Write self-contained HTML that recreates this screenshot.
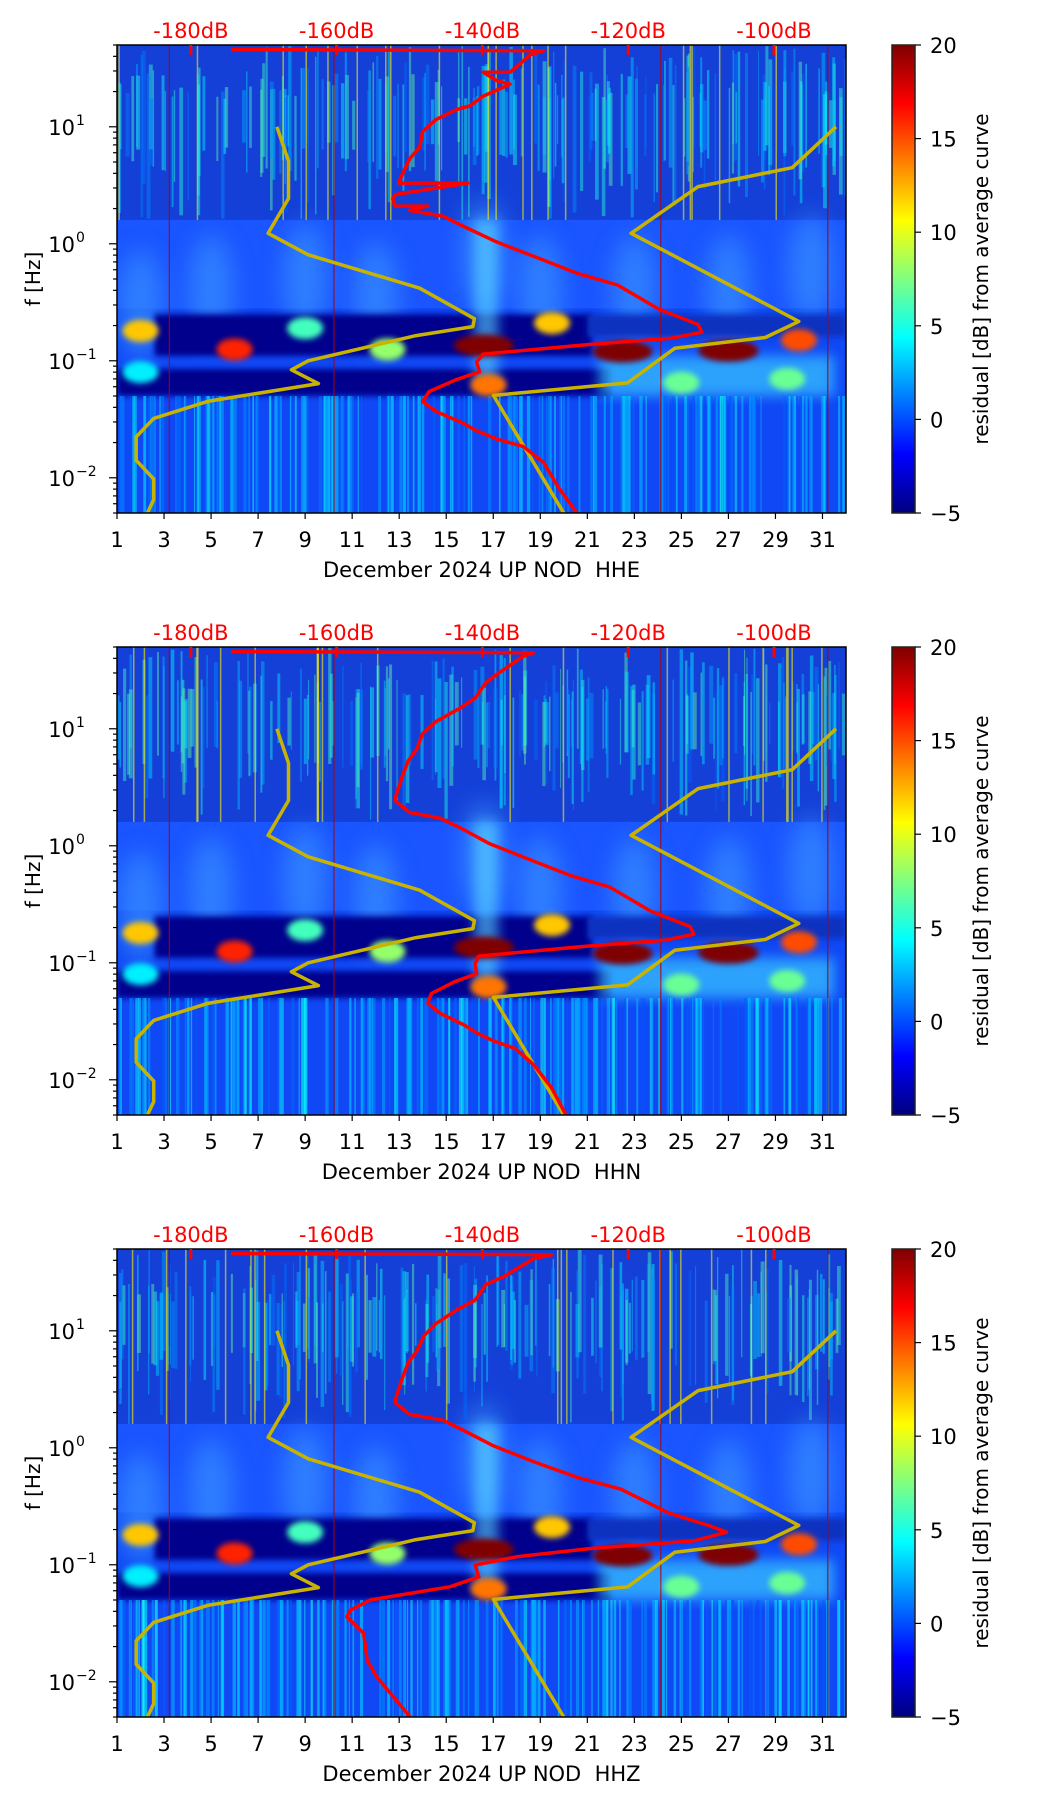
<!DOCTYPE html>
<html><head><meta charset="utf-8"><style>
body{margin:0;background:#fff;}
svg text{font-family:"DejaVu Sans","Liberation Sans",sans-serif;}
</style></head><body>
<svg id="fig" width="1052" height="1806" viewBox="0 0 1052 1806" xmlns="http://www.w3.org/2000/svg">
<defs>
<linearGradient id="jet" x1="0" y1="1" x2="0" y2="0">
<stop offset="0" stop-color="#00007f"/><stop offset="0.125" stop-color="#0000ff"/><stop offset="0.375" stop-color="#00ffff"/><stop offset="0.625" stop-color="#ffff00"/><stop offset="0.875" stop-color="#ff0000"/><stop offset="1" stop-color="#7f0000"/>
</linearGradient>
<filter id="blur6" x="-50%" y="-50%" width="200%" height="200%"><feGaussianBlur stdDeviation="6"/></filter>
<filter id="blur3" x="-50%" y="-50%" width="200%" height="200%"><feGaussianBlur stdDeviation="3"/></filter>
<filter id="blur12" x="-50%" y="-50%" width="200%" height="200%"><feGaussianBlur stdDeviation="12"/></filter>
</defs>
</svg>
<script>
// ---- data ----
const dayTicks = [1,3,5,7,9,11,13,15,17,19,21,23,25,27,29,31];
const freqTicks = [10, 1, 0.1, 0.01];
const freqTickLabels = ["1", "0", "−1", "−2"];
const dbTicks = [-180,-160,-140,-120,-100];
const cbTicks = [20,15,10,5,0,-5];
const channels = ["HHE","HHN","HHZ"];

const nlnmFreq = [10,5.09,2.44,1.23,0.805,0.417,0.229,0.196,0.164,0.1,0.0837,0.0638,0.045,0.0322,0.0224,0.0141,0.00977,0.00648,0.00494];
const nlnmDb   = [-168.2,-166.6,-166.6,-169.4,-163.9,-148.6,-141.1,-141.3,-149.1,-163.9,-166.2,-162.5,-177.7,-185.1,-187.5,-187.5,-185.1,-185.1,-186.0];
const nhnmFreq = [0.00494,0.0506,0.0647,0.128,0.158,0.217,1.23,3.08,4.47,10];
const nhnmDb   = [-128.8,-138.5,-120.1,-113.6,-101.2,-96.6,-119.6,-110.4,-97.5,-91.5];

const redFreqHHE = [45.7,44.7,41.3,29.2,29.2,24.9,23.1,18.3,15.1,14.0,11.5,9.1,6.7,5.3,3.9,3.3,3.3,2.64,2.44,2.1,2.1,1.93,1.72,1.42,1.04,0.762,0.559,0.443,0.278,0.204,0.175,0.156,0.138,0.114,0.0977,0.0805,0.0689,0.0546,0.045,0.037,0.0294,0.0252,0.0215,0.0185,0.0135,0.0085,0.00494];
const redDbHHE   = [-174.5,-131.6,-133.4,-136.2,-139.9,-138.1,-136.2,-139.9,-141.7,-143.6,-146.4,-148.2,-148.6,-150.0,-151.0,-151.5,-142.0,-151.9,-152.3,-152.0,-147.5,-150.0,-145.4,-142.7,-138.1,-132.5,-127.0,-121.4,-115.9,-110.4,-109.9,-114.1,-125.2,-139.9,-140.8,-140.4,-143.6,-147.3,-148.2,-146.4,-142.7,-140.8,-138.1,-134.4,-131.6,-129.7,-127.0];
const redFreqHHN = [45.7,44.7,41.3,29.2,24.9,18.3,15.1,11.5,9.1,6.7,5.3,3.9,2.64,2.44,1.93,1.72,1.42,1.04,0.762,0.559,0.443,0.278,0.204,0.175,0.156,0.138,0.114,0.0977,0.0805,0.0689,0.0546,0.045,0.037,0.0294,0.0252,0.0215,0.0185,0.0135,0.0085,0.00494];
const redDbHHN   = [-174.5,-133.0,-134.5,-138.0,-139.5,-141.0,-143.0,-146.4,-148.2,-149.0,-150.2,-151.0,-151.9,-152.0,-150.0,-145.8,-143.0,-139.0,-133.5,-128.0,-122.5,-117.0,-111.5,-111.0,-115.0,-126.0,-140.5,-141.0,-140.8,-143.8,-147.0,-147.5,-145.8,-142.5,-140.8,-138.5,-135.5,-133.0,-130.5,-128.5];
const redFreqHHZ = [45.7,44.7,41.3,29.2,24.9,18.3,15.1,11.5,9.1,6.7,5.3,3.9,2.64,2.44,1.93,1.72,1.42,1.04,0.762,0.559,0.443,0.278,0.217,0.19,0.16,0.138,0.117,0.0995,0.079,0.065,0.05,0.041,0.036,0.026,0.0153,0.011,0.005];
const redDbHHZ   = [-174.5,-130.5,-133.0,-137.0,-139.5,-141.0,-143.5,-146.4,-148.0,-149.0,-150.2,-151.0,-151.9,-152.0,-150.0,-145.4,-142.7,-138.5,-133.0,-127.0,-121.0,-114.5,-109.0,-106.5,-111.0,-125.0,-135.3,-141.0,-140.5,-144.4,-155.4,-158.1,-158.6,-156.3,-155.8,-154.5,-149.9];

const blobDay  = [2.0, 6.0, 16.6, 22.5, 27.0, 30.0, 19.5, 16.8, 9.0, 12.5, 25.0, 29.5, 2.0];
const blobFreq = [0.18,0.125,0.135,0.12,0.122,0.15,0.21,0.062,0.19,0.125,0.065,0.07,0.08];
const blobVal  = [12, 16, 20, 20, 20, 15, 12, 14, 6, 8, 7, 7, 4];
const dropoutDays = [3.2, 10.2, 24.1, 31.2];

// ---- layout ----
const NS="http://www.w3.org/2000/svg";
const svg=document.getElementById('fig');
const X0=117, X1=846, PH=468, TOPS=[45,647,1249];
const FMAX=50, FMIN=0.005;
function xDay(d){return X0+(d-1)/31*(X1-X0);}
function yF(top,f){return top+(Math.log10(FMAX)-Math.log10(f))/(Math.log10(FMAX)-Math.log10(FMIN))*PH;}
function dbDay(db){return 4.14+(db+180)/3.226;}
function jet(v){
  let t=Math.max(0,Math.min(1,(v+5)/25));
  const st=[[0,0,0,127],[0.125,0,0,255],[0.375,0,255,255],[0.625,255,255,0],[0.875,255,0,0],[1,127,0,0]];
  for(let i=1;i<st.length;i++){ if(t<=st[i][0]){const a=st[i-1],b=st[i],k=(t-a[0])/(b[0]-a[0]);
    return `rgb(${Math.round(a[1]+(b[1]-a[1])*k)},${Math.round(a[2]+(b[2]-a[2])*k)},${Math.round(a[3]+(b[3]-a[3])*k)})`;}}
  return 'rgb(127,0,0)';
}
function el(tag,attrs,parent){const e=document.createElementNS(NS,tag);for(const k in attrs)e.setAttribute(k,attrs[k]);(parent||svg).appendChild(e);return e;}
let seed=12345;function rnd(){seed=(seed*1103515245+12345)%2147483648;return seed/2147483648;}

TOPS.forEach((top,pi)=>{
  const g=el('g',{});
  
  
  const cp=el('clipPath',{id:'cp'+pi},svg.querySelector('defs'));
  el('rect',{x:X0,y:top,width:X1-X0,height:PH},cp);
  const bg=el('g',{'clip-path':`url(#cp${pi})`},g);
  
  
  const yy=f=>yF(top,f);
  el('rect',{x:X0,y:top,width:X1-X0,height:PH,fill:'#1048f5'},bg);
  el('rect',{x:X0,y:top,width:X1-X0,height:yy(1.6)-top,fill:'#1440d8'},bg);
  el('rect',{x:X0,y:yy(1.6),width:X1-X0,height:yy(0.28)-yy(1.6),fill:'#1a55ff'},bg);
  [[2,0.3],[9,0.5],[16.6,0.8],[19,0.4],[23,0.4],[27,0.4],[30.5,0.6],[12,0.35],[5,0.4]].forEach(p=>{
    el('ellipse',{cx:xDay(p[0]),cy:yy(p[1]),rx:22,ry:55,fill:'#3fa0ff',opacity:0.55,filter:'url(#blur12)'},bg);
  });
  el('rect',{x:xDay(2.6),y:yy(0.25),width:xDay(21.2)-xDay(2.6),height:yy(0.11)-yy(0.25),fill:'#00008c',filter:'url(#blur3)'},bg);
  el('rect',{x:xDay(1),y:yy(0.085),width:xDay(22)-xDay(1),height:yy(0.05)-yy(0.085),fill:'#00008c',filter:'url(#blur3)'},bg);
  el('rect',{x:xDay(21),y:yy(0.25),width:xDay(32)-xDay(21),height:yy(0.16)-yy(0.25),fill:'#0a30c0',filter:'url(#blur3)'},bg);
  el('rect',{x:xDay(21.5),y:yy(0.11),width:xDay(31.5)-xDay(21.5),height:yy(0.05)-yy(0.11),fill:'#39c8ff',opacity:0.7,filter:'url(#blur6)'},bg);
  el('rect',{x:xDay(16.2),y:yy(1.6),width:xDay(17.2)-xDay(16.2),height:yy(0.06)-yy(1.6),fill:'#5ad8ff',opacity:0.6,filter:'url(#blur6)'},bg);
  // texture streaks (decorative)
  for(let i=0;i<200;i++){
    const d=1+rnd()*31, w=1+rnd()*3, v=0.5+rnd()*6.5;
    const fBot=1.6+rnd()*6, fTop=50/(1+rnd()*2);
    el('rect',{x:xDay(d),y:yy(fTop),width:w,height:yy(fBot)-yy(fTop),fill:jet(v),opacity:0.45},bg);
  }
  for(let i=0;i<20;i++){
    const d=1+rnd()*31;
    el('rect',{x:xDay(d),y:top,width:1.5,height:yy(1.6)-top,fill:jet(11),opacity:0.6},bg);
  }
  for(let i=0;i<220;i++){
    const d=1+rnd()*31, w=1+rnd()*2.5, v=0+rnd()*5;
    el('rect',{x:xDay(d),y:yy(0.05),width:w,height:top+PH-yy(0.05),fill:jet(v),opacity:0.5},bg);
  }
  dropoutDays.forEach(d=>{
    el('rect',{x:xDay(d),y:top,width:1.2,height:PH,fill:'#b00000',opacity:0.85},bg);
  });
  blobDay.forEach((d,i)=>{
    const b=el('ellipse',{cx:xDay(d),cy:yy(blobFreq[i]),rx:blobVal[i]>=18?30:18,ry:11,fill:jet(blobVal[i]),filter:'url(#blur3)'},bg);
    
    
  });
  function poly(fr,db,color,w,name){
    const pts=fr.map((f,i)=>xDay(dbDay(db[i])).toFixed(1)+','+yy(f).toFixed(1)).join(' ');
    const p=el('polyline',{points:pts,fill:'none',stroke:color,'stroke-width':w,'stroke-linejoin':'round'},bg);
    
    
  }
  poly(nlnmFreq,nlnmDb,'#c8b400',3.5,'nlnm-curve');
  poly(nhnmFreq,nhnmDb,'#c8b400',3.5,'nhnm-curve');
  const rf=[redFreqHHE,redFreqHHN,redFreqHHZ][pi], rd=[redDbHHE,redDbHHN,redDbHHZ][pi];
  poly(rf,rd,'#ff0000',3.5,'average-psd-curve');
  el('rect',{x:X0,y:top,width:X1-X0,height:PH,fill:'none',stroke:'#000','stroke-width':1.5},g);
  dayTicks.forEach(d=>{
    const x=xDay(d);
    el('line',{x1:x,y1:top+PH,x2:x,y2:top+PH+6,stroke:'#000','stroke-width':1.2},g);
    const t=el('text',{x:x,y:top+PH+34,'font-size':21,'text-anchor':'middle',fill:'#000'},g);
    t.textContent=d;
    
    
  });
  const xt=el('text',{x:(X0+X1)/2,y:top+PH+64,'font-size':21,'text-anchor':'middle',fill:'#000'},g);
  xt.textContent='December 2024 UP NOD \u00a0'+channels[pi];
  
  
  dbTicks.forEach(db=>{
    const x=xDay(dbDay(db));
    el('line',{x1:x,y1:top,x2:x,y2:top+10,stroke:'#ff0000','stroke-width':3},g);
    const t=el('text',{x:x,y:top-7,'font-size':21,'text-anchor':'middle',fill:'#ff0000'},g);
    t.textContent=db+'dB';
    
    
  });
  for(let e=-3;e<=1;e++){
    for(let m=1;m<10;m++){
      const f=m*Math.pow(10,e); if(f<FMIN||f>FMAX)continue;
      const y=yy(f);
      el('line',{x1:X0,y1:y,x2:X0-(m===1?8:4),y2:y,stroke:'#000','stroke-width':1.2},g);
    }
  }
  freqTicks.forEach((f,i)=>{
    const y=yy(f);
    const t=el('text',{x:X0-42,y:y+8,'font-size':21,'text-anchor':'end',fill:'#000'},g);
    t.textContent='10';
    
    
    const s=el('text',{x:X0-41,y:y-2,'font-size':14,'text-anchor':'start',fill:'#000'},g);
    s.textContent=freqTickLabels[i];
  });
  const yt=el('text',{x:0,y:0,'font-size':20,'text-anchor':'middle',fill:'#000',transform:`translate(40,${top+PH/2}) rotate(-90)`},g);
  yt.textContent='f [Hz]';
  
  
  const cb=el('rect',{x:892,y:top,width:23,height:PH,fill:'url(#jet)',stroke:'#222','stroke-width':1.5},g);
  
  
  cbTicks.forEach(v=>{
    const y=top+(20-v)/25*PH;
    el('line',{x1:915,y1:y,x2:921,y2:y,stroke:'#000','stroke-width':1.2},g);
    const t=el('text',{x:930,y:y+8,'font-size':21,fill:'#000'},g);
    t.textContent=v<0?'−'+Math.abs(v):v;
    
    
  });
  const ct=el('text',{x:0,y:0,'font-size':20,'text-anchor':'middle',fill:'#000',transform:`translate(988,${top+PH/2}) rotate(-90)`},g);
  ct.textContent='residual [dB] from average curve';
  
  
});
</script>
</body></html>
